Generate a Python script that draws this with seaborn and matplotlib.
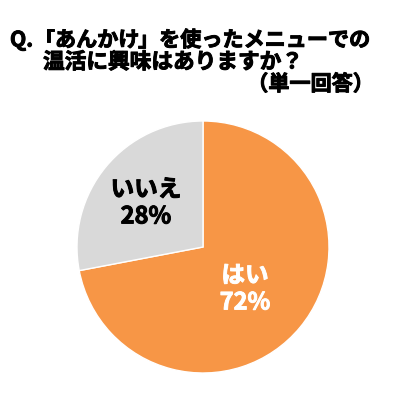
import matplotlib
matplotlib.use("Agg")
import matplotlib.pyplot as plt
import matplotlib.patheffects as pe
import seaborn as sns

sns.set_theme(style="white")
plt.rcParams['font.family'] = ['Noto Sans CJK JP', 'DejaVu Sans']

categories = ["はい", "いいえ"]
values = [72, 28]
colors = ["#F79646", "#D9D9D9"]
label_colors = ["white", "black"]
title_parts = ["Q.", "「", "あんかけ", "」を使ったメニューでの"]
title_line2 = "温活に興味はありますか？"
title_line3 = "（単一回答）"

W, H = 400, 399
fig = plt.figure(figsize=(W / 100, H / 100), dpi=100)
fig.patch.set_facecolor("white")

cx, cy, r = 203, 247, 126
ax = fig.add_axes([(cx - r) / W, (H - cy - r) / H, 2 * r / W, 2 * r / H])
wedges, _ = ax.pie(values, colors=colors, startangle=90, counterclock=False,
                   radius=1, wedgeprops=dict(edgecolor="white", linewidth=1))
ax.set_xlim(-1, 1)
ax.set_ylim(-1, 1)
ax.set_aspect("equal")
ax.axis("off")

def px(x, y):
    return x / W, 1 - y / H

WT = "bold"
def thick(c):
    return [pe.withStroke(linewidth=0.7, foreground=c)]

label_pos = [(245, 289), (146, 203)]
for cat, v, col, (lx, ly) in zip(categories, values, label_colors, label_pos):
    fig.text(*px(lx, ly), f"{cat}\n{v}%", color=col, fontsize=17, fontweight=WT,
             ha="center", va="center", linespacing=1.15, path_effects=thick(col))

fs = 15.2
ty = 40
kw = dict(fontsize=fs, fontweight=WT, va="center", color="black", path_effects=thick("black"))
fig.text(*px(10, ty), title_parts[0], ha="left", **kw)
fig.text(*px(55, ty), title_parts[1], ha="right", **kw)
fig.text(*px(55, ty), title_parts[2], ha="left", **kw)
fig.text(*px(138, ty), title_parts[3], ha="left", **kw)
kw2 = dict(kw, fontsize=15.6)
fig.text(*px(43, 62), title_line2, ha="left", **kw2)
fig.text(*px(374, 84), title_line3, ha="right", **kw)

fig.savefig("out.png", dpi=100, facecolor="white")
